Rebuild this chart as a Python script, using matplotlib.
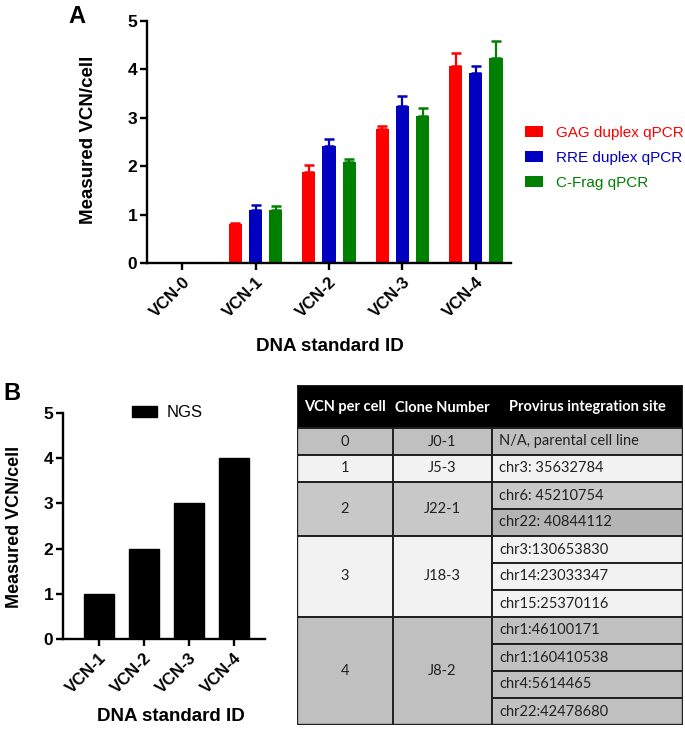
import matplotlib
matplotlib.use("Agg")
import matplotlib.pyplot as plt
from matplotlib.patches import Rectangle
import numpy as np

plt.rcParams['font.family'] = ['Liberation Sans', 'DejaVu Sans']

# ---------------- data ----------------
categories_a = ["VCN-0", "VCN-1", "VCN-2", "VCN-3", "VCN-4"]
series_names = ["GAG duplex qPCR", "RRE duplex qPCR", "C-Frag qPCR"]
series_colors = ["#ff0000", "#0000c0", "#008000"]
gag_vals = [0.0, 0.80, 1.88, 2.76, 4.08]
gag_err = [0.0, 0.03, 0.15, 0.08, 0.25]
rre_vals = [0.0, 1.10, 2.42, 3.25, 3.92]
rre_err = [0.0, 0.10, 0.14, 0.21, 0.15]
cfrag_vals = [0.0, 1.10, 2.09, 3.03, 4.24]
cfrag_err = [0.0, 0.08, 0.05, 0.18, 0.34]

categories_b = ["VCN-1", "VCN-2", "VCN-3", "VCN-4"]
ngs_vals = [1, 2, 3, 4]

yticks = [0, 1, 2, 3, 4, 5]

table_header = ["VCN per cell", "Clone Number", "Provirus integration site"]
table_vcn = ["0", "1", "2", "3", "4"]
table_clone = ["J0-1", "J5-3", "J22-1", "J18-3", "J8-2"]
table_sites = [
    ["N/A, parental cell line"],
    ["chr3: 35632784"],
    ["chr6: 45210754", "chr22: 40844112"],
    ["chr3:130653830", "chr14:23033347", "chr15:25370116"],
    ["chr1:46100171", "chr1:160410538", "chr4:5614465", "chr22:42478680"],
]

W, H = 685, 732
fig = plt.figure(figsize=(W / 100, H / 100), dpi=100)

def fig_rect(x0, y0, x1, y1):
    return [x0 / W, 1 - y1 / H, (x1 - x0) / W, (y1 - y0) / H]

# ---------------- Panel A ----------------
axA = fig.add_axes(fig_rect(147, 21, 511, 263))
x = np.arange(len(categories_a))
bw = 0.18
offs = [-0.275, 0.0, 0.275]
vals_list = [gag_vals, rre_vals, cfrag_vals]
err_list = [gag_err, rre_err, cfrag_err]
handles = []
for vals, errs, off, col, name in zip(vals_list, err_list, offs, series_colors, series_names):
    b = axA.bar(x + off, vals, bw, color=col, label=name, zorder=2)
    handles.append(b)
    idx = [i for i, v in enumerate(vals) if v > 0]
    xi = np.array([x[i] + off for i in idx])
    vi = np.array([vals[i] for i in idx])
    ei = np.array([errs[i] for i in idx])
    axA.errorbar(xi, vi, yerr=[np.zeros_like(ei), ei], fmt='none', ecolor=col,
                 elinewidth=1.6, capsize=3.8, capthick=1.8, zorder=3)
axA.set_xlim(-0.48, 4.48)
axA.set_ylim(0, 5)
axA.set_yticks(yticks)
axA.set_xticks(x)
axA.set_xticklabels(categories_a, rotation=45, ha='right', rotation_mode='anchor',
                    fontsize=12, fontweight='bold')
for lab in axA.get_yticklabels():
    lab.set_fontweight('bold')
    lab.set_fontsize(12.5)
for s in ['top', 'right']:
    axA.spines[s].set_visible(False)
for s in ['left', 'bottom']:
    axA.spines[s].set_linewidth(1.7)
axA.tick_params(axis='both', width=1.7, length=5, pad=2)
axA.tick_params(axis='x', pad=3)
axA.set_ylabel("Measured VCN/cell", fontsize=13.5, fontweight='bold')
axA.yaxis.set_label_coords(-0.137, 0.508)
axA.set_xlabel("DNA standard ID", fontsize=13.5, fontweight='bold')
axA.xaxis.set_label_coords(0.503, -0.31)
legA = axA.legend(handles=handles, loc='upper left', bbox_to_anchor=(525 / W, 1 - 126 / H),
                  bbox_transform=fig.transFigure, frameon=False, fontsize=11,
                  handlelength=1.2, handleheight=0.7, handletextpad=0.8,
                  labelspacing=0.72, borderpad=0, borderaxespad=0)
for t, c in zip(legA.get_texts(), series_colors):
    t.set_color(c)
fig.text(68 / W, 1 - 5 / H, "A", fontsize=17, fontweight='bold', ha='left', va='top')

# ---------------- Panel B ----------------
axB = fig.add_axes(fig_rect(63, 412.7, 265, 639.3))
xb = np.arange(len(categories_b))
barsB = axB.bar(xb, ngs_vals, 0.67, color='black', edgecolor='black', label="NGS", zorder=2)
axB.set_xlim(-0.8, 3.7)
axB.set_ylim(0, 5)
axB.set_yticks(yticks)
axB.set_xticks(xb)
axB.set_xticklabels(categories_b, rotation=45, ha='right', rotation_mode='anchor',
                    fontsize=12, fontweight='bold')
for lab in axB.get_yticklabels():
    lab.set_fontweight('bold')
    lab.set_fontsize(12.5)
for s in ['top', 'right']:
    axB.spines[s].set_visible(False)
for s in ['left', 'bottom']:
    axB.spines[s].set_linewidth(1.7)
axB.tick_params(axis='both', width=1.7, length=5, pad=2)
axB.tick_params(axis='x', pad=3)
axB.set_ylabel("Measured VCN/cell", fontsize=13, fontweight='bold')
axB.yaxis.set_label_coords(-0.198, 0.496)
axB.set_xlabel("DNA standard ID", fontsize=13.5, fontweight='bold')
axB.xaxis.set_label_coords(0.535, -0.305)
axB.legend(handles=[barsB], loc='upper left', bbox_to_anchor=(132 / W, 1 - 405 / H),
           bbox_transform=fig.transFigure, frameon=False, fontsize=12,
           handlelength=1.5, handleheight=0.65, handletextpad=0.6,
           borderpad=0, borderaxespad=0)
fig.text(3 / W, 1 - 382 / H, "B", fontsize=17, fontweight='bold', ha='left', va='top')

# ---------------- Table ----------------
tx0, tx1, ty0, ty1 = 297, 683, 385, 725
axT = fig.add_axes(fig_rect(tx0, ty0, tx1, ty1))
axT.set_xlim(tx0, tx1)
axT.set_ylim(ty1, ty0)
axT.axis('off')
col_edges = [297, 393, 492, 683]
header_bottom = 428
n_sub = sum(len(s) for s in table_sites)
row_h = (ty1 - header_bottom) / n_sub
group_colors = ["#c0c0c0", "#f2f2f2", "#c8c8c8", "#f2f2f2", "#c0c0c0"]
sub_colors = {(2, 1): "#b4b4b4"}
line_c = "#202020"
tfont = ['Lato', 'DejaVu Sans']

axT.add_patch(Rectangle((tx0, ty0), tx1 - tx0, header_bottom - ty0, facecolor='black',
                        edgecolor='none', zorder=1))
hdr_x = [(col_edges[0] + col_edges[1]) / 2, (col_edges[1] + col_edges[2]) / 2,
         (col_edges[2] + col_edges[3]) / 2]
for hx, htxt in zip(hdr_x, table_header):
    axT.text(hx, (ty0 + header_bottom) / 2 + 1, htxt, color='white', fontsize=10.5,
             fontweight='bold', ha='center', va='center', family=tfont, zorder=5)

y = header_bottom
for g, sites in enumerate(table_sites):
    gh = row_h * len(sites)
    gc = group_colors[g]
    axT.add_patch(Rectangle((col_edges[0], y), col_edges[2] - col_edges[0], gh,
                            facecolor=gc, edgecolor=line_c, linewidth=1.4, zorder=2))
    axT.plot([col_edges[1], col_edges[1]], [y, y + gh], color=line_c, lw=1.4, zorder=3)
    axT.text(hdr_x[0], y + gh / 2, table_vcn[g], fontsize=10.5, ha='center', va='center',
             family=tfont, color='#222222', zorder=5)
    axT.text(hdr_x[1], y + gh / 2, table_clone[g], fontsize=10.5, ha='center', va='center',
             family=tfont, color='#222222', zorder=5)
    for k, site in enumerate(sites):
        sc = sub_colors.get((g, k), gc)
        axT.add_patch(Rectangle((col_edges[2], y + k * row_h), col_edges[3] - col_edges[2], row_h,
                                facecolor=sc, edgecolor=line_c, linewidth=1.4, zorder=2))
        axT.text(col_edges[2] + 7, y + k * row_h + row_h / 2, site, fontsize=10.5, ha='left',
                 va='center', family=tfont, color='#222222', zorder=5)
    y += gh
axT.add_patch(Rectangle((tx0, ty0), tx1 - tx0, ty1 - ty0, facecolor='none',
                        edgecolor=line_c, linewidth=1.7, zorder=4))

fig.savefig("out.png", dpi=100)
